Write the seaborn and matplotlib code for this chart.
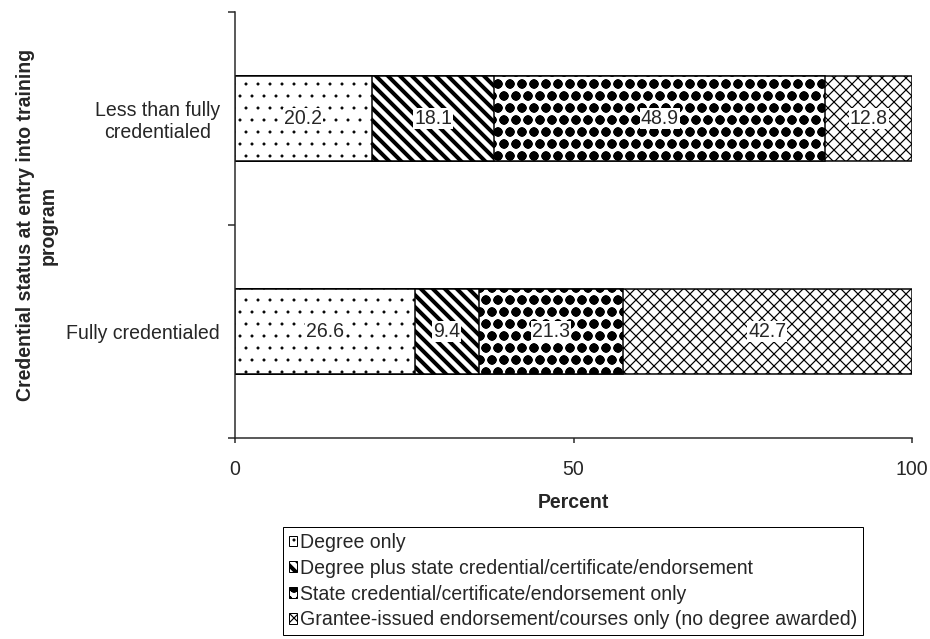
import numpy as np
import pandas as pd
import matplotlib
matplotlib.use("Agg")
import matplotlib.pyplot as plt
import matplotlib.patches as mpatches
import seaborn as sns

categories = ["Less than fully\ncredentialed", "Fully credentialed"]
series_names = [
    "Degree only",
    "Degree plus state credential/certificate/endorsement",
    "State credential/certificate/endorsement only",
    "Grantee-issued endorsement/courses only (no degree awarded)",
]
degree_only = [20.2, 26.6]
degree_plus_state = [18.1, 9.4]
state_only = [48.9, 21.3]
grantee_only = [12.8, 42.7]
x_ticks = [0, 50, 100]

hatches = [".", "\\\\", "o", "xx"]
hatch_lws = [0.5, 4.0, 4.4, 1.2]
fs = 19.5

sns.set_style("ticks")
plt.rcParams["font.family"] = ["Liberation Sans", "DejaVu Sans"]

values = np.array([degree_only, degree_plus_state, state_only, grantee_only])
cum = values.cumsum(axis=0)
df = pd.DataFrame({"status": categories})
for k, name in enumerate(series_names):
    df[name] = cum[k]

fig = plt.figure(figsize=(930 / 72, 639 / 72), dpi=72)
ax = fig.add_axes([235 / 930, 1 - 438 / 639, (912 - 235) / 930, (438 - 12) / 639])

# stacked bars: draw cumulative totals from the longest to the shortest
for k in range(3, -1, -1):
    plt.rcParams["hatch.linewidth"] = hatch_lws[k]
    n_before = len(ax.patches)
    sns.barplot(data=df, x=series_names[k], y="status", order=categories,
                orient="h", color="white", saturation=1, edgecolor="black",
                linewidth=1.5, hatch=hatches[k], width=0.4, errorbar=None, ax=ax)
    for p in ax.patches[n_before:]:
        if hasattr(p, "set_hatch_linewidth"):
            p.set_hatch_linewidth(hatch_lws[k])

for k in range(4):
    for i in range(len(categories)):
        ax.text(cum[k][i] - values[k][i] / 2, i, f"{values[k][i]:.1f}",
                ha="center", va="center", fontsize=fs,
                bbox=dict(facecolor="white", edgecolor="none", pad=1.0))

ax.set_xlim(0, 100)
ax.set_ylim(1.5, -0.5)
ax.set_xticks(x_ticks)
ax.set_yticks([-0.5, 0.5, 1.5], minor=True)
ax.tick_params(axis="y", which="major", length=0, pad=15, labelsize=fs)
ax.tick_params(axis="y", which="minor", length=7, width=1.5, direction="out")
ax.tick_params(axis="x", length=5, width=1.5, pad=17, labelsize=fs)
for lab in ax.get_yticklabels():
    lab.set_multialignment("center")
sns.despine(ax=ax)
ax.spines["left"].set_linewidth(1.5)
ax.spines["bottom"].set_linewidth(1.5)
ax.set_xlabel("Percent", fontweight="bold", fontsize=fs, labelpad=14)
ax.set_ylabel("Credential status at entry into training\nprogram",
              fontweight="bold", fontsize=fs, labelpad=9)

handles = [mpatches.Patch(facecolor="white", edgecolor="black", hatch=h, label=n)
           for h, n in zip(hatches, series_names)]
leg = fig.legend(handles=handles, loc="upper center",
                 bbox_to_anchor=(573 / 930, 1 - 527 / 639), frameon=True,
                 fancybox=False, framealpha=1, edgecolor="black", fontsize=fs,
                 handlelength=0.45, handleheight=0.45, handletextpad=0.15,
                 labelspacing=0.35, borderpad=0.3, borderaxespad=0)
leg.get_frame().set_linewidth(1.0)
for p, lw in zip(leg.get_patches(), hatch_lws):
    if hasattr(p, "set_hatch_linewidth"):
        p.set_hatch_linewidth(lw)

fig.savefig("out.png", dpi=72)
